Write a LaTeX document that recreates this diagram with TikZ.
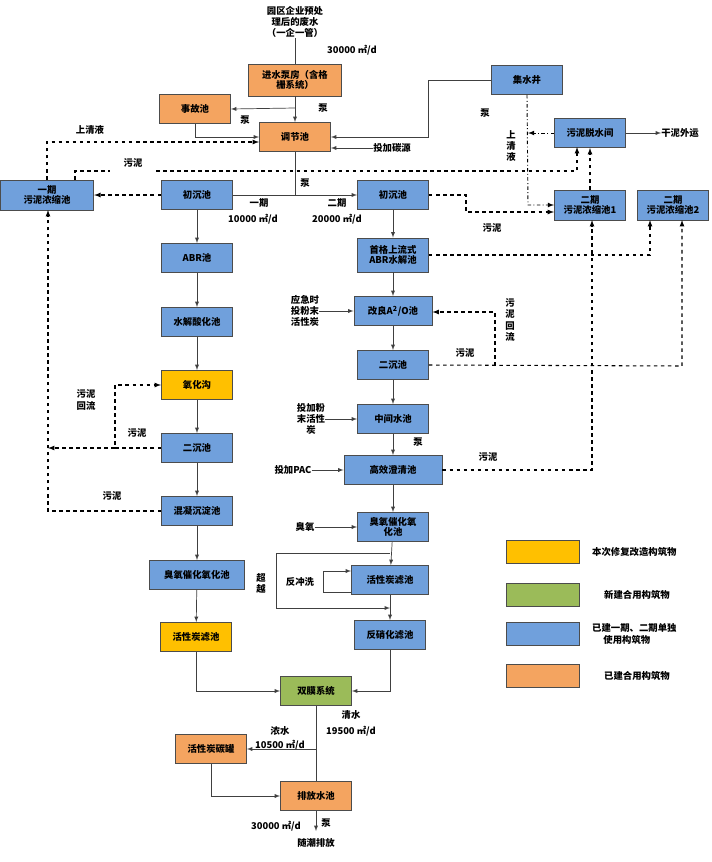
\documentclass[tikz,border=0pt]{standalone}
\usepackage{fontspec}
\setmainfont{Noto Sans CJK SC}
\usepackage{tikz}
\usetikzlibrary{arrows}
\definecolor{blu}{RGB}{112,160,220}
\definecolor{ora}{RGB}{244,164,96}
\definecolor{yel}{RGB}{255,192,0}
\definecolor{gre}{RGB}{155,187,89}
\tikzset{
  box/.style={draw=black!70,line width=0.8pt,minimum width=2.13cm,minimum height=0.87cm,align=center,inner sep=1pt,font=\fontsize{8}{9}\selectfont\bfseries},
  lbl/.style={align=center,inner sep=0pt,font=\fontsize{8}{9.5}\selectfont\bfseries},
  flow/.style={draw=black!75,line width=0.6pt,-latex},
  mud/.style={draw=black,line width=0.9pt,dashed,-latex},
  dd/.style={draw=black,line width=0.8pt,dash dot,-latex}
}
\begin{document}
\begin{tikzpicture}[x=0.03cm,y=-0.03cm]
\useasboundingbox (0,0) rectangle (712,862);
% boxes
\node[box,fill=ora,minimum width=2.8cm,minimum height=0.96cm] (pump) at (295,80) {进水泵房（含格\\栅系统）};
\node[box,fill=ora] (acc) at (195,109) {事故池};
\node[box,fill=ora] (tjc) at (295,137) {调节池};
\node[box,fill=blu] (jsj) at (527,80) {集水井};
\node[box,fill=blu] (tsj) at (590,133) {污泥脱水间};
\node[box,fill=blu,minimum width=2.8cm,minimum height=0.9cm] (nsA) at (47,195) {一期\\污泥浓缩池};
\node[box,fill=blu] (ccL) at (197,195) {初沉池};
\node[box,fill=blu] (ccR) at (393,195) {初沉池};
\node[box,fill=blu,minimum height=0.9cm] (nsB) at (590,205) {二期\\污泥浓缩池1};
\node[box,fill=blu,minimum height=0.9cm] (nsC) at (673,205) {二期\\污泥浓缩池2};
\node[box,fill=blu] (abrL) at (197,258) {ABR池};
\node[box,fill=blu,minimum height=1.02cm] (abrR) at (393,255) {首格上流式\\ABR水解池};
\node[box,fill=blu] (sjL) at (197,322) {水解酸化池};
\node[box,fill=blu,minimum width=2.34cm] (ao) at (393,311) {改良A\textsuperscript{2}/O池};
\node[box,fill=yel] (yhg) at (197,385) {氧化沟};
\node[box,fill=blu] (ecR) at (393,365) {二沉池};
\node[box,fill=blu] (zj) at (393,419) {中间水池};
\node[box,fill=blu] (ecL) at (197,448) {二沉池};
\node[box,fill=blu,minimum width=2.94cm] (gx) at (393,470) {高效澄清池};
\node[box,fill=blu] (hn) at (197,511) {混凝沉淀池};
\node[box,fill=blu] (cyR) at (393,527) {臭氧催化氧\\化池};
\node[box,fill=blu,minimum width=2.85cm] (cyL) at (197,575) {臭氧催化氧化池};
\node[box,fill=blu,minimum width=2.31cm] (htR) at (390,580) {活性炭滤池};
\node[box,fill=yel] (htL) at (196,637) {活性炭滤池};
\node[box,fill=blu] (fx) at (390,635) {反硝化滤池};
\node[box,fill=gre] (sm) at (316,691) {双膜系统};
\node[box,fill=ora] (tg) at (211,749) {活性炭碳罐};
\node[box,fill=ora] (pf) at (316,796) {排放水池};
% legend
\node[box,fill=yel,minimum width=2.19cm,minimum height=0.69cm] (lg1) at (543,552) {};
\node[box,fill=gre,minimum width=2.19cm,minimum height=0.69cm] (lg2) at (543,595) {};
\node[box,fill=blu,minimum width=2.19cm,minimum height=0.69cm] (lg3) at (543,634) {};
\node[box,fill=ora,minimum width=2.19cm,minimum height=0.69cm] (lg4) at (543,676) {};
\node[lbl,anchor=west] at (592,552) {本次修复改造构筑物};
\node[lbl,anchor=west] at (604,595) {新建合用构筑物};
\node[lbl,anchor=west,align=left] at (592,634) {已建一期、二期单独\\\hspace*{1.2em}使用构筑物};
\node[lbl,anchor=west] at (604,676) {已建合用构筑物};
% texts
\node[lbl] (src) at (295,22) {园区企业预处\\理后的废水\\（一企一管）};
\node[lbl] at (352,50) {30000 ㎡/d};
\node[lbl] at (323,108) {泵};
\node[lbl] at (245,120) {泵};
\node[lbl] (tan) at (392,148) {投加碳源};
\node[lbl] at (90,130) {上清液};
\node[lbl] at (133,163) {污泥};
\node[lbl] at (485,113) {泵};
\node[lbl] at (511,146) {上\\清\\液};
\node[lbl] (gn) at (680,133) {干泥外运};
\node[lbl] at (305,183) {泵};
\node[lbl] at (259,203) {一期};
\node[lbl] at (253,219) {10000 ㎡/d};
\node[lbl] at (337,203) {二期};
\node[lbl] at (337,219) {20000 ㎡/d};
\node[lbl] at (492,228) {污泥};
\node[lbl] (yj) at (305,311) {应急时\\投粉末\\活性炭};
\node[lbl] at (465,353) {污泥};
\node[lbl] at (510,320) {污\\泥\\回\\流};
\node[lbl] (tf) at (311,419) {投加粉\\末活性\\炭};
\node[lbl] at (418,442) {泵};
\node[lbl] (pac) at (293,470) {投加PAC};
\node[lbl] at (488,457) {污泥};
\node[lbl] (cy) at (305,527) {臭氧};
\node[lbl] at (261,583) {超\\越};
\node[lbl] at (300,582) {反冲洗};
\node[lbl] at (86,400) {污泥\\回流};
\node[lbl] at (137,433) {污泥};
\node[lbl] at (112,496) {污泥};
\node[lbl] at (280,731) {浓水};
\node[lbl] at (280,745) {10500 ㎡/d};
\node[lbl] at (351,715) {清水};
\node[lbl] at (351,731) {19500 ㎡/d};
\node[lbl] at (326,823) {泵};
\node[lbl] at (276,826) {30000 ㎡/d};
\node[lbl] (out) at (316,843) {随潮排放};
\coordinate (s1) at (295,195);
\coordinate (s2) at (316,749);
% main flow
\draw[draw=black!75,line width=0.6pt] (src) -- (pump);
\draw[flow] (pump) -- (tjc);
\draw[flow] (295,108) -- (acc.east);
\draw[flow] (acc.south) |- (tjc.west);
\draw[flow] (jsj.west) -- (428,80) |- (tjc.east);
\draw[flow] (tan.west) -- (tjc.east |- tan.west);
\draw[draw=black!75,line width=0.6pt] (tjc.south) -- (s1) -- (ccL.east);
\draw[flow] (s1) -- (ccR.west);
\draw[flow] (tsj.east) -- (gn.west);
\draw[flow] (ccL) -- (abrL);
\draw[flow] (abrL) -- (sjL);
\draw[flow] (sjL) -- (yhg);
\draw[flow] (yhg) -- (ecL);
\draw[flow] (ecL) -- (hn);
\draw[flow] (hn) -- (cyL);
\draw[flow] (cyL) -- (htL);
\draw[flow] (ccR) -- (abrR);
\draw[flow] (abrR) -- (ao);
\draw[flow] (ao) -- (ecR);
\draw[flow] (ecR) -- (zj);
\draw[flow] (zj) -- (gx);
\draw[flow] (gx) -- (cyR);
\draw[flow] (cyR) -- (htR);
\draw[flow] (htR) -- (fx);
\draw[flow] (390,553) -- (276,553) -- (276,608) -- (390,608);
\draw[flow] (htR.west |- 0,592) -- (323,592) -- (323,571) -- (htR.west |- 0,571);
\draw[flow] (yj.east |- ao.west) -- (ao.west);
\draw[flow] (tf.east |- zj.west) -- (zj.west);
\draw[flow] (pac.east) -- (gx.west);
\draw[flow] (cy.east) -- (cyR.west);
\draw[flow] (htL.south) |- (sm.west);
\draw[flow] (fx.south) |- (sm.east);
\draw[draw=black!75,line width=0.6pt] (sm.south) -- (pf.north);
\draw[flow] (s2) -- (tg.east);
\draw[flow] (tg.south) |- (pf.west);
\draw[flow] (pf.south) -- (316,831);
% sludge
\draw[mud] (nsA.north) -- (47,142) -- (tjc.west |- 0,142);
\draw[draw=black,line width=0.9pt,dashed] (75,180) -- (75,171) -- (110,171);
\draw[mud] (156,171) -- (577,171) -- (577,147);
\draw[mud] (ccL.west) -- (nsA.east);
\draw[mud] (ccR.east) -- (466,195) -- (466,212) -- (nsB.west |- 0,212);
\draw[mud] (nsB.north) -- (tsj.south -| nsB.north);
\draw[mud] (abrR.east) -- (650,255) -- (650,220);
\draw[mud] (gx.east) -- (592,470) -- (592,220);
\draw[mud] (ecR.east) -- (682,366) -- (682,220);
\draw[mud] (495,366) -- (495,312) -- (ao.east |- 0,312);
\draw[mud] (ecL.west) -- (115,448) -- (115,385) -- (yhg.west);
\draw[mud] (115,448) -- (48,448);
\draw[mud] (hn.west) -- (48,511) -- (48,210);
\draw[dd] (jsj.south) -- (528,205) -- (nsB.west |- 0,205);
\draw[dd] (tsj.west) -- (528,133);
\end{tikzpicture}
\end{document}
